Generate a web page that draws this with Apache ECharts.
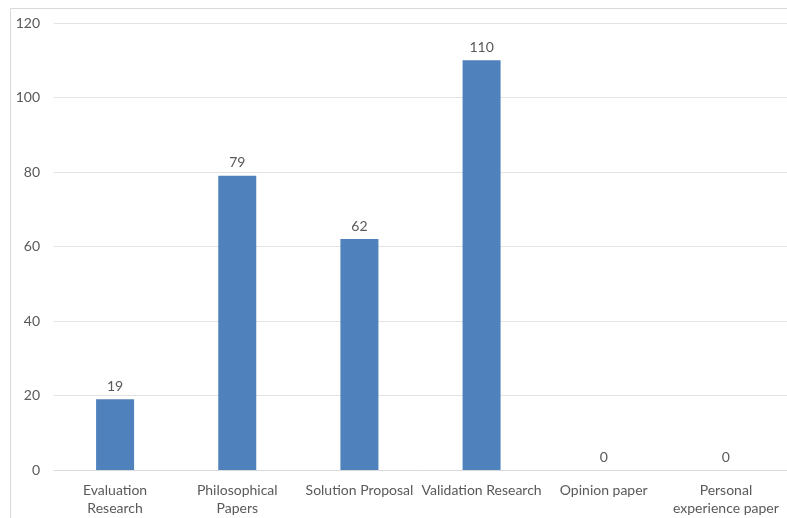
<!DOCTYPE html>
<html>
<head>
<meta charset="utf-8">
<script src="https://cdn.jsdelivr.net/npm/echarts@6/dist/echarts.min.js"></script>
<style>
  html, body { margin: 0; padding: 0; background: #fff; }
  #chart { width: 787px; height: 518px; }
</style>
</head>
<body>
<div id="chart"></div>
<script>
// Paper counts per research type
const categories = [
  'Evaluation\nResearch',
  'Philosophical\nPapers',
  'Solution Proposal',
  'Validation Research',
  'Opinion paper',
  'Personal\nexperience paper'
];
const counts = [19, 79, 62, 110, 0, 0];
const yTicks = { min: 0, max: 120, interval: 20 };

const FONT = 'Lato, "Open Sans", sans-serif';
const TEXT = '#595959';

const chart = echarts.init(document.getElementById('chart'), null, { renderer: 'canvas' });
chart.setOption({
  animation: false,
  backgroundColor: '#fff',
  graphic: [{
    type: 'rect',
    shape: { x: 10.5, y: 8.5, width: 800, height: 520 },
    style: { fill: 'none', stroke: '#d9d9d9', lineWidth: 1 },
    silent: true,
    z: -1
  }],
  grid: { left: 54, right: 0, top: 23, bottom: 48, containLabel: false },
  xAxis: {
    type: 'category',
    data: categories,
    axisTick: { show: false },
    axisLine: { show: true, lineStyle: { color: '#d9d9d9', width: 1 } },
    axisLabel: {
      color: TEXT, fontFamily: FONT, fontSize: 14, lineHeight: 18,
      margin: 11, interval: 0
    }
  },
  yAxis: {
    type: 'value',
    min: yTicks.min, max: yTicks.max, interval: yTicks.interval,
    axisLine: { show: false },
    axisTick: { show: false },
    splitLine: { lineStyle: { color: '#e3e3e3', width: 1 } },
    axisLabel: { color: TEXT, fontFamily: FONT, fontSize: 14, margin: 14 }
  },
  series: [{
    type: 'bar',
    data: counts,
    barWidth: 38,
    itemStyle: { color: '#4f81bd' },
    label: {
      show: true, position: 'top', distance: 6,
      color: TEXT, fontFamily: FONT, fontSize: 14
    }
  }]
});
</script>
</body>
</html>
